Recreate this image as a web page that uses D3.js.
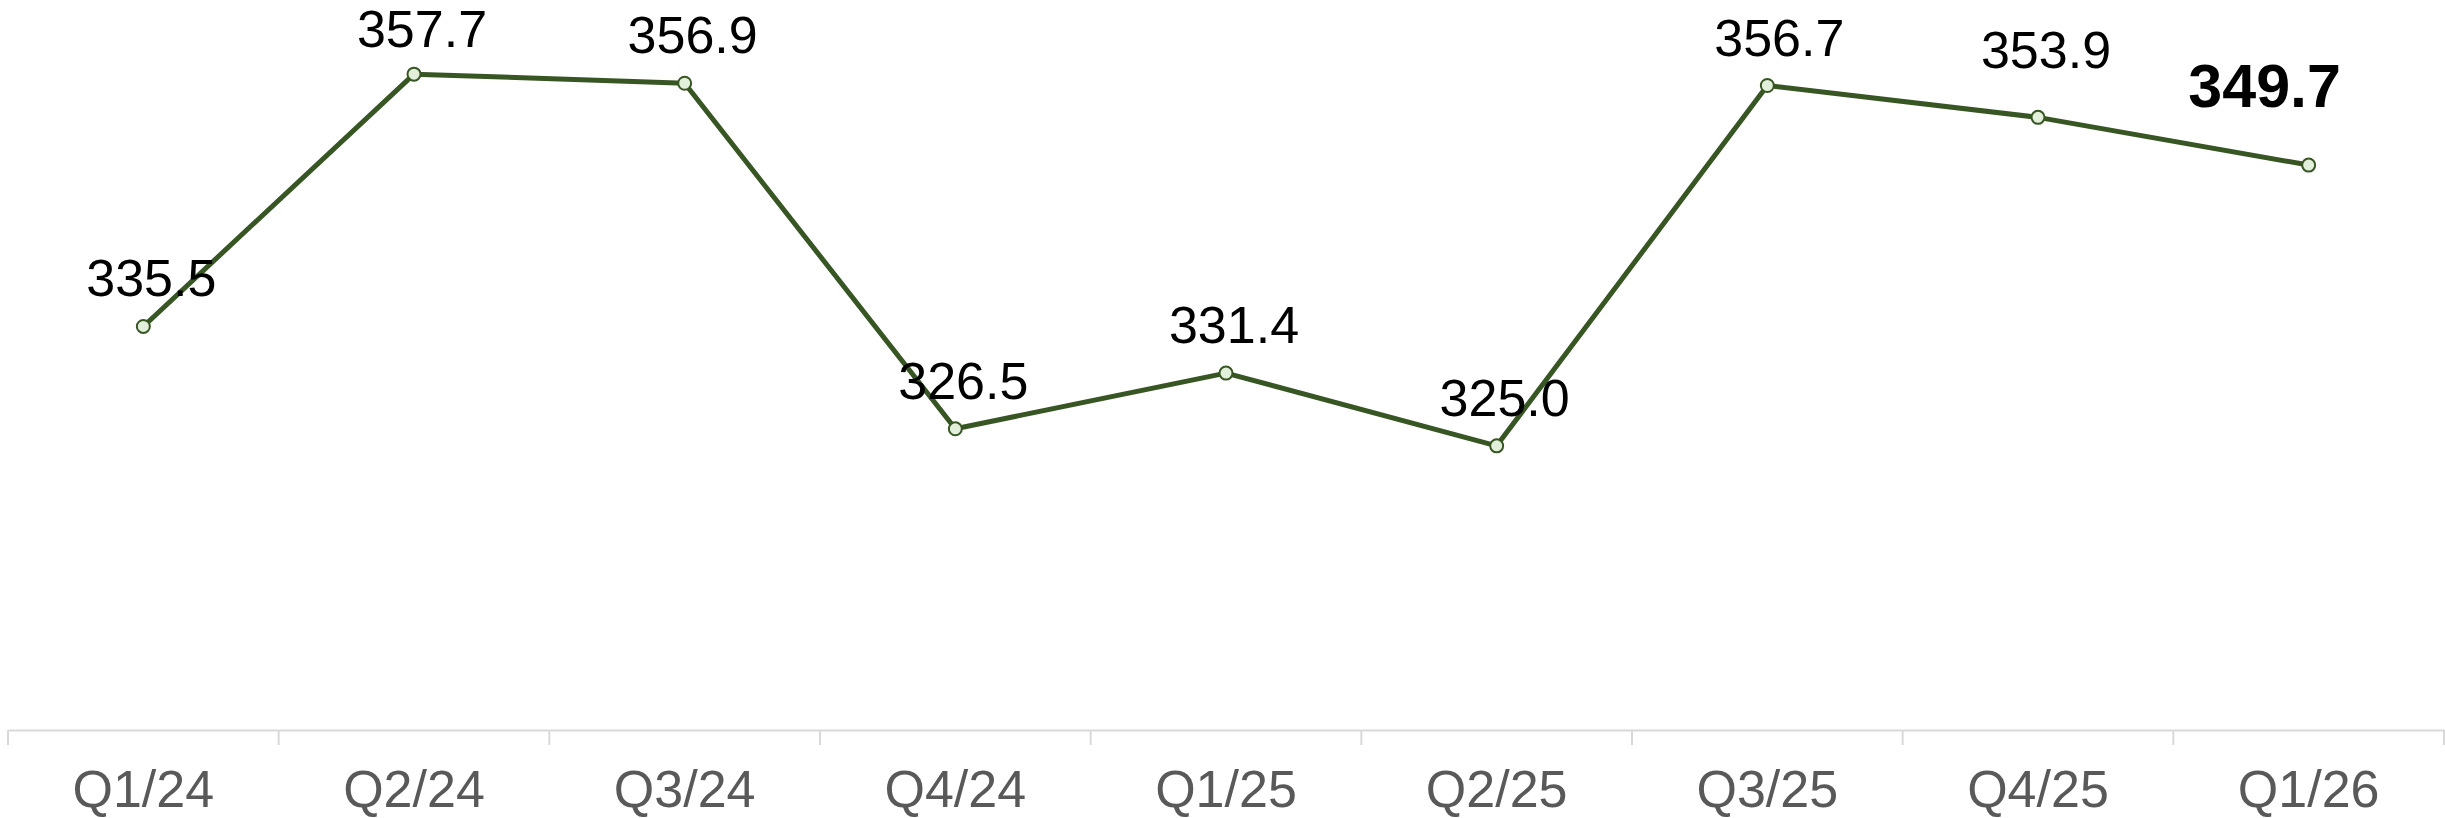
<html>
<head>
  <style>
    body {
      margin: 0;
      background: #ffffff;
      font-family: "Liberation Sans", Arial, sans-serif;
    }

    .axis path {
      stroke: #d9d9d9;
      stroke-width: 2px;
    }

    .axis text {
      fill: #595959;
      font-size: 52px;
      font-family: "Liberation Sans", Arial, sans-serif;
    }

    .label {
      fill: #000000;
      font-size: 52px;
      text-anchor: middle;
    }

    .label.last {
      font-weight: bold;
      font-size: 61px;
    }
  </style>
</head>

<body>
  <div id="chart"></div>

  <script src="https://d3js.org/d3.v7.min.js"></script>
  <script>
    // quarters and values
    var quarters = ["Q1/24", "Q2/24", "Q3/24", "Q4/24", "Q1/25", "Q2/25", "Q3/25", "Q4/25", "Q1/26"];
    var values = [335.5, 357.7, 356.9, 326.5, 331.4, 325.0, 356.7, 353.9, 349.7];

    // extra lift / shift for the labels that were moved by hand
    var labelLift = [0, -3, 0, 0, 0, 0, 0, 19, 28];
    var labelShift = [0, 0, 0, 0, 0, 0, 4, 0, -52];

    var width = 2445,
        height = 818,
        axisY = 730;

    var svg = d3.select("#chart")
      .append("svg")
      .attr("width", width)
      .attr("height", height);

    var x = d3.scaleBand()
      .domain(quarters)
      .range([8, 2444])
      .padding(0);

    var y = d3.scaleLinear()
      .domain([300, 360])
      .range([axisY, 48]);

    var cx = function (d, i) { return x(quarters[i]) + x.bandwidth() / 2; };

    // x axis, labels only, the ticks sit on band edges
    var axis = svg.append("g")
      .attr("class", "axis")
      .attr("transform", "translate(0," + axisY + ")")
      .call(d3.axisBottom(x).tickSize(0).tickSizeOuter(0));

    axis.selectAll(".tick text")
      .attr("y", 77)
      .attr("dy", 0);

    var edges = quarters.map(function (q) { return x(q); }).concat([x.range()[1]]);

    axis.selectAll(".edge")
      .data(edges)
      .enter().append("line")
      .attr("class", "edge")
      .attr("x1", function (d) { return d; })
      .attr("x2", function (d) { return d; })
      .attr("y1", 0)
      .attr("y2", 15)
      .attr("stroke", "#d9d9d9")
      .attr("stroke-width", 2);

    var line = d3.line()
      .x(cx)
      .y(function (d) { return y(d); });

    svg.append("path")
      .datum(values)
      .attr("d", line)
      .attr("fill", "none")
      .attr("stroke", "#375623")
      .attr("stroke-width", 5)
      .attr("stroke-linejoin", "round");

    svg.selectAll(".dot")
      .data(values)
      .enter().append("circle")
      .attr("class", "dot")
      .attr("cx", cx)
      .attr("cy", function (d) { return y(d); })
      .attr("r", 6.5)
      .attr("fill", "#e2efda")
      .attr("stroke", "#375623")
      .attr("stroke-width", 2);

    svg.selectAll(".label")
      .data(values)
      .enter().append("text")
      .attr("class", function (d, i) { return i === values.length - 1 ? "label last" : "label"; })
      .attr("x", function (d, i) { return cx(d, i) + 8 + labelShift[i]; })
      .attr("y", function (d, i) { return y(d) - 30 - labelLift[i]; })
      .text(function (d) { return d3.format(".1f")(d); });
  </script>
</body>
</html>
